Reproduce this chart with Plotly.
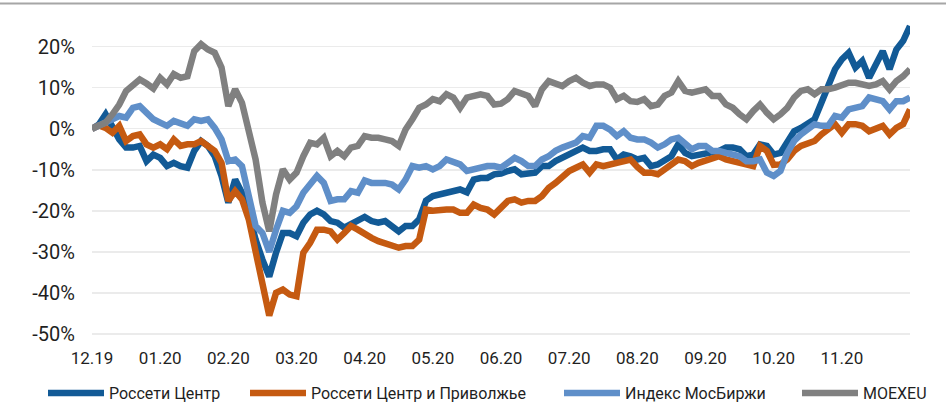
import plotly.graph_objects as go

# trading-day index (every 2nd day), Dec-2019 .. Nov-2020
day_idx = list(range(0, 241, 2))

rosseti_center = [
    0, 1, 3.5, 0.7, -2.6, -4.6, -4.6, -4.2, -7.9, -6.3,
    -7.1, -9.1, -8.3, -9.1, -9.5, -5.4, -3, -4.2, -6.7, -11.5,
    -18, -12.4, -15.6, -20.5, -27, -31.9, -36, -30.2, -25.4, -25.4,
    -26.2, -22.9, -20.9, -20, -20.9, -22.5, -22.9, -24.1, -23.3, -22.1,
    -21.5, -22.5, -22.9, -22.5, -23.7, -25, -23.7, -23.7, -22.1, -17.5,
    -16.4, -16, -16, -15.2, -14.8, -15.5, -12.4, -12, -12, -11.1,
    -10.9, -10.3, -9.9, -11.1, -10.7, -10.7, -9.1, -9.1, -7.9, -7.1,
    -5.9, -5.4, -4.6, -5.4, -5.4, -5, -5, -7.5, -6.3, -6.7,
    -7.5, -7.1, -9.1, -8.7, -7.5, -6.7, -3.8, -5.9, -6.7, -6.3,
    -6.3, -5.9, -5.4, -4.6, -4.6, -5, -6.7, -6.3, -3.8, -4.2,
    -6.3, -5.9, -3.4, -0.6, 0.2, 1.5, 2.3, 6.3, 10.8, 14.5,
    16.9, 18.5, 14.9, 16.5, 12.4, 16, 18.9, 14.5, 19.3, 21.4,
    25,
]

rosseti_volga = [
    0, 0.8, 0.2, -1, 0.7, -3, -1.8, -1.4, -3.8, -4.6,
    -3.8, -5, -2.6, -4.2, -3.8, -3.8, -3, -4.2, -5.4, -8.3,
    -17.6, -15.2, -17.2, -22.1, -30.2, -36.7, -45.5, -40, -39.2, -40.4,
    -40.8, -30.2, -27.8, -24.6, -24.6, -25, -27, -25.4, -23.7, -24.6,
    -25.8, -26.6, -27.4, -27.8, -28.6, -29, -28.6, -28.6, -27, -19.7,
    -20, -19.7, -19.7, -19.7, -20.5, -20.5, -18.5, -19.3, -19.7, -20.9,
    -19.5, -17.6, -17.2, -18, -17.6, -17.6, -16.4, -14.4, -13.2, -11.5,
    -10.3, -9.5, -8.7, -10.7, -8.7, -9.1, -8.7, -7.9, -7.9, -7.5,
    -9.3, -10.7, -10.7, -11.1, -9.9, -8.7, -7.5, -7.9, -9.1, -8.3,
    -7.9, -7.5, -6.7, -7.5, -7.9, -8.7, -9.1, -9.1, -4.2, -5.4,
    -8.8, -8.7, -7.5, -5.4, -4.2, -3.8, -3, -1.4, -0.2, 1.1,
    -1, 1.1, 1.1, 0.7, -0.6, 0.2, 0.7, -1.4, 0.2, 1.1,
    4.7,
]

moex_index = [
    0, 0.7, 1.5, 2.3, 3.1, 2.7, 5.1, 5.5, 3.9, 2.3,
    1.5, 0.7, 1.9, 1.1, 0.7, 2.3, 1.9, 2.3, 0.2, -2.6,
    -7.9, -7.5, -9.1, -16.4, -23.7, -25.4, -30, -24.6, -20, -20.5,
    -18.9, -15.6, -13.6, -11.5, -13.2, -17.6, -17.2, -17.2, -15.2, -15.6,
    -12.6, -13.2, -13.2, -13.2, -13.6, -14.8, -12.4, -9.1, -9.5, -9.1,
    -9.9, -9.1, -7.5, -8.3, -8.7, -10.3, -9.9, -9.1, -9.1, -9.1,
    -9.5, -8.3, -7.1, -7.9, -9.1, -9.1, -7.5, -6.7, -5.4, -4.6,
    -3.8, -3.4, -1.8, -2.2, 0.7, 0.7, -0.2, -1.8, -0.6, -2.2,
    -2.6, -2.6, -3.4, -4.6, -3.8, -2.6, -2.2, -3.4, -5, -4.2,
    -4.2, -5.4, -5.4, -5.9, -6.3, -6.7, -7.9, -7.9, -7.5, -10.7,
    -11.5, -10.3, -5.9, -3, -1.4, -0.2, 1.1, 0.7, 0.7, 3.1,
    2.7, 4.7, 5.1, 5.5, 7.6, 7.2, 6.7, 4.7, 6.7, 6.7,
    7.6,
]

moexeu = [
    0, 0.7, 1.5, 3.5, 5.9, 9.2, 10.8, 12, 11, 9.8,
    12.4, 10.8, 13.3, 12.4, 12.8, 18.9, 20.6, 19.3, 18.5, 14.9,
    5.5, 9.6, 6.3, -0.2, -7.5, -18, -25, -16, -9.9, -12.4,
    -10.7, -6.7, -3.4, -3.8, -2.2, -6.7, -5.4, -6.7, -4.6, -4.2,
    -1.8, -2.2, -2.2, -2.6, -3, -4.2, -0.2, 2.3, 5.1, 5.9,
    7.2, 6.7, 8.4, 7.6, 5.1, 7.6, 8, 8.4, 8, 5.9,
    6.1, 7.2, 9.2, 8.4, 8, 5.5, 9.6, 11.6, 10.8, 10.4,
    11.6, 12.4, 11.2, 10.4, 10.8, 10.8, 10, 7.2, 8, 6.7,
    6.5, 7.2, 5.5, 5.9, 8, 8.8, 11.6, 9.2, 8.8, 9.2,
    9.6, 8, 8, 5.9, 5.1, 3.5, 2.3, 4.3, 5.9, 3.9,
    2.3, 3.5, 5.1, 7.6, 9.2, 9.6, 8.4, 9.6, 9.6, 10,
    10.8, 11.2, 11.2, 10.8, 10.4, 10.8, 11.6, 9.6, 11.6, 12.8,
    14.5,
]

month_labels = ["12.19", "01.20", "02.20", "03.20", "04.20", "05.20",
                "06.20", "07.20", "08.20", "09.20", "10.20", "11.20"]
month_label_pos = [0, 20, 40, 60, 80, 100, 120, 140, 160, 180, 200, 220]

y_ticks = [-50, -40, -30, -20, -10, 0, 10, 20]
y_labels = ["-50%", "-40%", "-30%", "-20%", "-10%", "0%", "10%", "20%"]

series = [
    ("Россети Центр", rosseti_center, "#125A96", "legend", 48),
    ("Россети Центр и Приволжье", rosseti_volga, "#C55A11", "legend2", 250),
    ("Индекс МосБиржи", moex_index, "#5F8FC9", "legend3", 564),
    ("MOEXEU", moexeu, "#808080", "legend4", 802),
]

FONT = "Roboto, Liberation Sans Narrow, sans-serif"
TXT = "#1f1f1f"

fig = go.Figure()
for name, vals, color, leg, _ in series:
    fig.add_trace(go.Scatter(
        x=day_idx, y=vals, name=name, mode="lines",
        line=dict(color=color, width=6.5, shape="linear"),
        legend=leg, hoverinfo="skip",
    ))

Y0, Y1 = -50.5, 26
zero_pos = (0 - Y0) / (Y1 - Y0)

legend_common = dict(
    orientation="h", xref="container", yref="container",
    yanchor="middle", y=1 - 393 / 418, xanchor="left",
    font=dict(family=FONT, size=16, color=TXT),
    bgcolor="rgba(0,0,0,0)", itemwidth=56, tracegroupgap=0,
)
legends = {}
for _, _, _, leg, px in series:
    d = dict(legend_common)
    d["x"] = (px - 5) / 946
    legends[leg] = d

fig.update_layout(
    template="none",
    width=946, height=418,
    margin=dict(l=92, r=36, t=22, b=82, autoexpand=False),
    paper_bgcolor="white", plot_bgcolor="white",
    font=dict(family=FONT, size=16, color=TXT),
    showlegend=True,
    xaxis=dict(
        range=[0, 240], tickmode="array", tickvals=month_label_pos, ticktext=month_labels,
        showgrid=False, zeroline=False, showline=False, ticks="",
        tickfont=dict(family=FONT, size=17, color=TXT),
        ticklabelstandoff=10, automargin=False, fixedrange=True,
    ),
    xaxis2=dict(
        range=[0, 240], overlaying="x", anchor="free", position=zero_pos,
        showline=True, linecolor="#D9D9D9", linewidth=1.5,
        ticks="outside", ticklen=5, tickcolor="#D9D9D9", tickwidth=1.5,
        tickmode="linear", tick0=0, dtick=20,
        showticklabels=False, showgrid=False, zeroline=False, automargin=False,
    ),
    yaxis=dict(
        range=[Y0, Y1], tickmode="array", tickvals=y_ticks, ticktext=y_labels,
        showgrid=True, gridcolor="#EBEBEB", gridwidth=1.5,
        zeroline=False, showline=False, ticks="", ticklabelstandoff=16,
        tickfont=dict(family=FONT, size=20, color=TXT),
        automargin=False, fixedrange=True,
    ),
    shapes=[dict(
        type="line", xref="paper", yref="paper",
        x0=-92 / 818, x1=854 / 818, y0=1 + 18.5 / 314, y1=1 + 18.5 / 314,
        line=dict(color="#A6A6A6", width=2),
    )],
    **legends,
)

fig.write_html(
    "out.html",
    config={"displayModeBar": False, "staticPlot": True},
    post_script="document.body.style.margin='0';document.body.style.overflow='hidden';",
)
